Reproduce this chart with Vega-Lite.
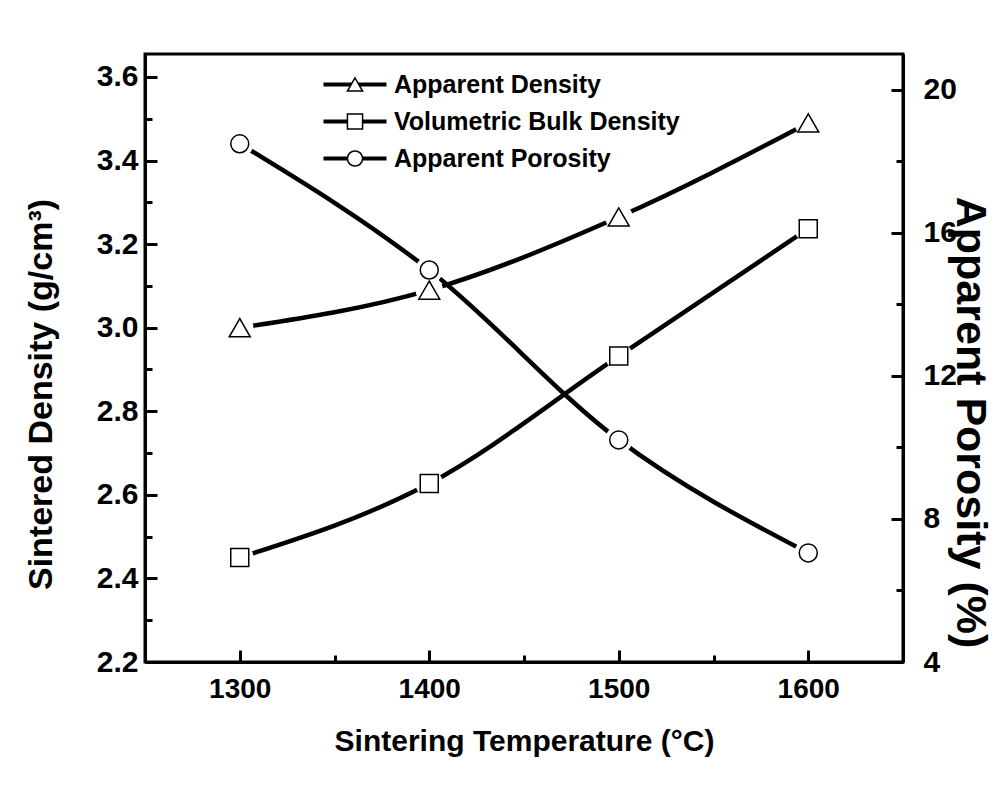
{
  "$schema": "https://vega.github.io/schema/vega-lite/v6.json",
  "width": 758,
  "height": 608,
  "autosize": {"type": "none"},
  "padding": {"left": 145, "top": 54, "right": 99, "bottom": 131},
  "background": "white",
  "config": {
    "view": {"stroke": "black", "strokeWidth": 3},
    "font": "Liberation Sans",
    "axis": {
      "domainColor": "black", "domainWidth": 3,
      "tickColor": "black", "tickWidth": 3,
      "labelColor": "black", "labelFont": "Liberation Sans", "labelFontWeight": "bold", "labelFontSize": 30,
      "titleColor": "black", "titleFont": "Liberation Sans", "titleFontWeight": "bold", "titleFontSize": 34,
      "grid": false
    }
  },
  "data": {"values": [
    {"T": 1300, "series": "Apparent Density", "value": 3.0},
    {"T": 1400, "series": "Apparent Density", "value": 3.09},
    {"T": 1500, "series": "Apparent Density", "value": 3.265},
    {"T": 1600, "series": "Apparent Density", "value": 3.49},
    {"T": 1300, "series": "Volumetric Bulk Density", "value": 2.45},
    {"T": 1400, "series": "Volumetric Bulk Density", "value": 2.627},
    {"T": 1500, "series": "Volumetric Bulk Density", "value": 2.932},
    {"T": 1600, "series": "Volumetric Bulk Density", "value": 3.237},
    {"T": 1300, "series": "Apparent Porosity", "value": 18.49},
    {"T": 1400, "series": "Apparent Porosity", "value": 14.96},
    {"T": 1500, "series": "Apparent Porosity", "value": 10.21},
    {"T": 1600, "series": "Apparent Porosity", "value": 7.05}
  ]},
  "encoding": {
    "x": {
      "field": "T", "type": "quantitative",
      "scale": {"domain": [1250, 1650], "nice": false, "zero": false},
      "axis": {
        "values": [1300, 1350, 1400, 1450, 1500, 1550, 1600],
        "format": "d",
        "labelExpr": "datum.value % 100 == 0 ? datum.label : ''",
        "labelFontSize": 28,
        "tickSize": {"condition": {"test": "datum.value % 100 == 0", "value": -12}, "value": -7},
        "labelPadding": 25,
        "title": "Sintering Temperature (°C)",
        "titleFontSize": 30,
        "titleX": 379, "titleY": 79, "titleAlign": "center", "titleBaseline": "middle"
      }
    }
  },
  "layer": [
    {
      "transform": [{"filter": "datum.series != 'Apparent Porosity'"}],
      "mark": {"type": "line", "interpolate": "monotone", "strokeWidth": 4.5},
      "encoding": {
        "y": {
          "field": "value", "type": "quantitative",
          "scale": {"domain": [2.2, 3.655], "nice": false, "zero": false},
          "axis": {
            "orient": "left",
            "values": [2.2, 2.3, 2.4, 2.5, 2.6, 2.7, 2.8, 2.9, 3.0, 3.1, 3.2, 3.3, 3.4, 3.5, 3.6],
            "labelExpr": "round(datum.value * 10) % 2 == 0 ? format(datum.value, '.1f') : ''",
            "tickSize": {"condition": {"test": "round(datum.value * 10) % 2 == 0", "value": -12}, "value": -7},
            "labelPadding": 19,
            "title": "Sintered Density (g/cm³)",
            "titleAngle": -90, "titleX": -104, "titleY": 340, "titleAlign": "center", "titleBaseline": "middle"
          }
        },
        "color": {
          "field": "series", "type": "nominal",
          "scale": {"domain": ["Apparent Porosity", "Apparent Density", "Volumetric Bulk Density"], "range": ["black", "black", "black"]},
          "legend": {
            "title": null,
            "orient": "none", "legendX": 178, "legendY": 18,
            "symbolType": "M-3.15,0H3.15", "symbolSize": 400, "symbolStrokeWidth": 4, "symbolOpacity": 1,
            "symbolOffset": 19.5, "labelOffset": 325,
            "labelFont": "Liberation Sans", "labelFontWeight": "bold", "labelFontSize": 25, "labelOpacity": 0, "labelLimit": 0,
            "rowPadding": 11
          }
        }
      }
    },
    {
      "transform": [{"filter": "datum.series == 'Apparent Porosity'"}],
      "mark": {"type": "line", "interpolate": "monotone", "strokeWidth": 4.5},
      "encoding": {
        "y": {
          "field": "value", "type": "quantitative",
          "scale": {"domain": [4, 21], "nice": false, "zero": false},
          "axis": {
            "orient": "right",
            "values": [4, 6, 8, 10, 12, 14, 16, 18, 20],
            "labelExpr": "datum.value % 4 == 0 ? datum.label : ''",
            "tickSize": {"condition": {"test": "datum.value % 4 == 0", "value": -12}, "value": -7},
            "labelPadding": 32,
            "title": "Apparent Porosity (%)",
            "titleFontSize": 43,
            "titleAngle": 90, "titleX": 66, "titleY": 368, "titleAlign": "center", "titleBaseline": "middle"
          }
        },
        "color": {"field": "series", "type": "nominal"}
      }
    },
    {
      "transform": [{"filter": "datum.series != 'Apparent Porosity'"}],
      "mark": {"type": "point", "shape": "circle", "filled": true, "color": "white", "opacity": 1, "size": 750},
      "encoding": {
        "y": {"field": "value", "type": "quantitative", "scale": {"domain": [2.2, 3.655], "nice": false, "zero": false}, "axis": null}
      }
    },
    {
      "transform": [{"filter": "datum.series == 'Apparent Porosity'"}],
      "mark": {"type": "point", "shape": "circle", "filled": true, "color": "white", "opacity": 1, "size": 750},
      "encoding": {
        "y": {"field": "value", "type": "quantitative", "scale": {"domain": [4, 21], "nice": false, "zero": false}, "axis": null}
      }
    },
    {
      "transform": [{"filter": "datum.series == 'Apparent Density'"}],
      "mark": {"type": "point", "filled": true, "fill": "white", "strokeWidth": 1.5, "opacity": 1, "size": 440},
      "encoding": {
        "y": {"field": "value", "type": "quantitative", "scale": {"domain": [2.2, 3.655], "nice": false, "zero": false}, "axis": null},
        "shape": {
          "field": "series", "type": "nominal",
          "scale": {"domain": ["Apparent Density", "Volumetric Bulk Density", "Apparent Porosity"], "range": ["triangle-up", "square", "circle"]},
          "legend": {
            "title": null,
            "orient": "none", "legendX": 178, "legendY": 18,
            "symbolSize": 230, "symbolStrokeWidth": 1.5, "symbolFillColor": "white", "symbolOpacity": 1,
            "symbolOffset": 19.5, "labelOffset": 26.5,
            "labelFont": "Liberation Sans", "labelFontWeight": "bold", "labelFontSize": 25, "labelColor": "black", "labelLimit": 0,
            "rowPadding": 11
          }
        },
        "stroke": {
          "field": "series", "type": "nominal",
          "scale": {"domain": ["Apparent Density", "Volumetric Bulk Density", "Apparent Porosity"], "range": ["black", "black", "black"]}
        }
      }
    },
    {
      "transform": [{"filter": "datum.series == 'Volumetric Bulk Density'"}],
      "mark": {"type": "point", "filled": true, "fill": "white", "strokeWidth": 1.5, "opacity": 1, "size": 324},
      "encoding": {
        "y": {"field": "value", "type": "quantitative", "scale": {"domain": [2.2, 3.655], "nice": false, "zero": false}, "axis": null},
        "shape": {"field": "series", "type": "nominal"},
        "stroke": {"field": "series", "type": "nominal"}
      }
    },
    {
      "transform": [{"filter": "datum.series == 'Apparent Porosity'"}],
      "mark": {"type": "point", "filled": true, "fill": "white", "strokeWidth": 1.5, "opacity": 1, "size": 324},
      "encoding": {
        "y": {"field": "value", "type": "quantitative", "scale": {"domain": [4, 21], "nice": false, "zero": false}, "axis": null},
        "shape": {"field": "series", "type": "nominal"},
        "stroke": {"field": "series", "type": "nominal"}
      }
    }
  ],
  "resolve": {"scale": {"y": "independent"}}
}
